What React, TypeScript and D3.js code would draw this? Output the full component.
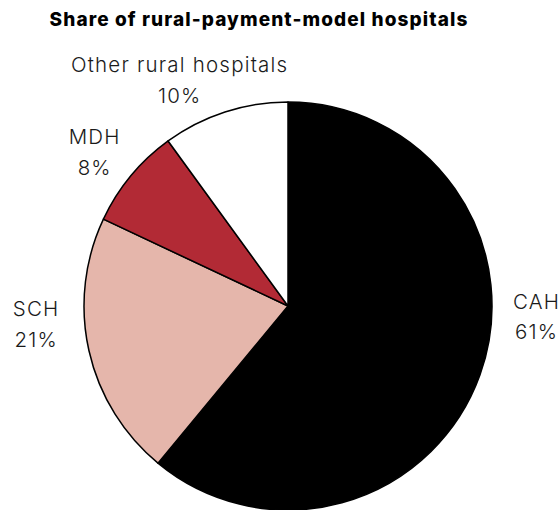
import React from "react";
import * as d3 from "d3";

const categories = ["CAH", "SCH", "MDH", "Other rural hospitals"];
const shares = [61, 21, 8, 10];
const colors = ["#000000", "#e5b6ab", "#b22a35", "#ffffff"];
const title = "Share of rural-payment-model hospitals";

// label layout (angle in degrees clockwise from top, distance from centre)
const labelAngles = [94.15, 264.3, 307, 333.5];
const labelRadii = [248.7, 253.7, 242.8, 244.2];

const W = 559;
const H = 510;
const cx = 288;
const cy = 306;
const R = 204;

export default function App() {
  const pie = d3.pie<number>().sort(null).value((d) => d)(shares);
  const arc = d3.arc<d3.PieArcDatum<number>>().innerRadius(0).outerRadius(R);
  const font = "Inter, 'Open Sans', sans-serif";
  return (
    <svg
      width={W}
      height={H}
      style={{ position: "absolute", left: 0, top: 0 }}
      fontFamily={font}
    >
      <text
        x={259}
        y={26}
        textAnchor="middle"
        fontSize={19}
        fontWeight={800}
        letterSpacing={1.1}
        fill="#000"
      >
        {title}
      </text>
      <g transform={`translate(${cx},${cy})`}>
        {pie.map((p, i) => (
          <path
            key={i}
            d={arc(p) || ""}
            fill={colors[i]}
            stroke="#000"
            strokeWidth={1.5}
            strokeLinejoin="round"
          />
        ))}
        {pie.map((p, i) => {
          const a = (labelAngles[i] * Math.PI) / 180;
          const r = labelRadii[i];
          const x = r * Math.sin(a) + 0.6;
          const y = -r * Math.cos(a);
          return (
            <text
              key={"l" + i}
              x={x}
              y={y}
              textAnchor="middle"
              fontSize={20.5}
              fontWeight={300}
              letterSpacing={1.2}
              fill="#1a1a1a"
            >
              <tspan x={x} dy={-15.5}>
                {categories[i]}
              </tspan>
              <tspan x={x} dy={31}>
                {`${shares[i]}%`}
              </tspan>
            </text>
          );
        })}
      </g>
    </svg>
  );
}
